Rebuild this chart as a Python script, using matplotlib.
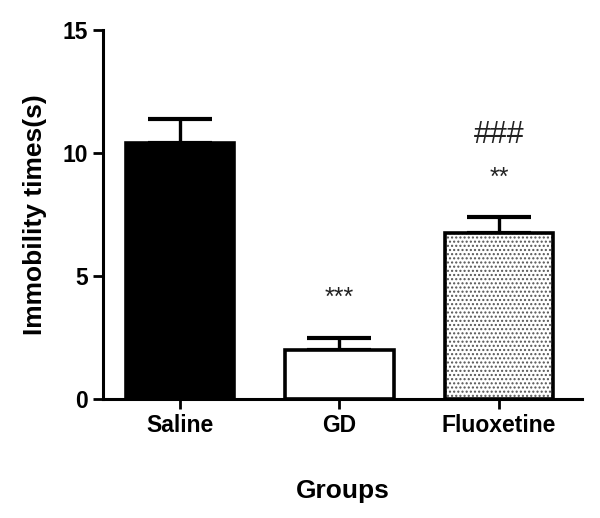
import matplotlib.pyplot as plt

plt.rcParams["font.family"] = ["Liberation Sans", "DejaVu Sans"]

groups = ["Saline", "GD", "Fluoxetine"]
means = [10.42, 1.99, 6.75]
sem = [0.96, 0.50, 0.65]
marks = ["", "***", "**"]
marks2 = ["", "", "###"]

fig = plt.figure(figsize=(6.0, 5.18), dpi=100)
ax = fig.add_axes([0.172, 0.230, 0.798, 0.712])

x = list(range(len(groups)))
width = 0.68
faces = ["black", "white", "white"]
hatches = [None, None, "...."]

# error bars first so the bar covers the lower half
ax.errorbar(x, means, yerr=[[0] * len(sem), sem], fmt="none", ecolor="black",
            elinewidth=2.4, capsize=23, capthick=3, zorder=1)
for i in x:
    if hatches[i]:
        ax.bar(i, means[i], width, color="white", edgecolor="#555555",
               hatch=hatches[i], linewidth=0, zorder=2)
        ax.bar(i, means[i], width, color="none", edgecolor="black",
               linewidth=2.6, zorder=3)
    else:
        ax.bar(i, means[i], width, color=faces[i], edgecolor="black",
               linewidth=2.6, zorder=2)

for i in x:
    if marks[i]:
        ax.text(i, means[i] + sem[i] + 1.6, marks[i], ha="center", va="center",
                fontsize=18, color="#222222")
    if marks2[i]:
        ax.text(i, means[i] + sem[i] + 3.35, marks2[i], ha="center", va="center",
                fontsize=22, color="#222222")

ax.set_xlim(-0.48, 2.52)
ax.set_ylim(0, 15)
ax.set_yticks([0, 5, 10, 15])
ax.set_xticks(x)
ax.set_xticklabels(groups)
for s in ["top", "right"]:
    ax.spines[s].set_visible(False)
for s in ["left", "bottom"]:
    ax.spines[s].set_linewidth(2.2)
ax.tick_params(width=2, length=7, labelsize=16.5, pad=4)
for lab in ax.get_xticklabels() + ax.get_yticklabels():
    lab.set_fontweight("bold")

ax.set_ylabel("Immobility times(s)", fontsize=19, fontweight="bold", labelpad=11)
ax.set_xlabel("Groups", fontsize=19, fontweight="bold", labelpad=30)

fig.savefig("out.png", dpi=100)
